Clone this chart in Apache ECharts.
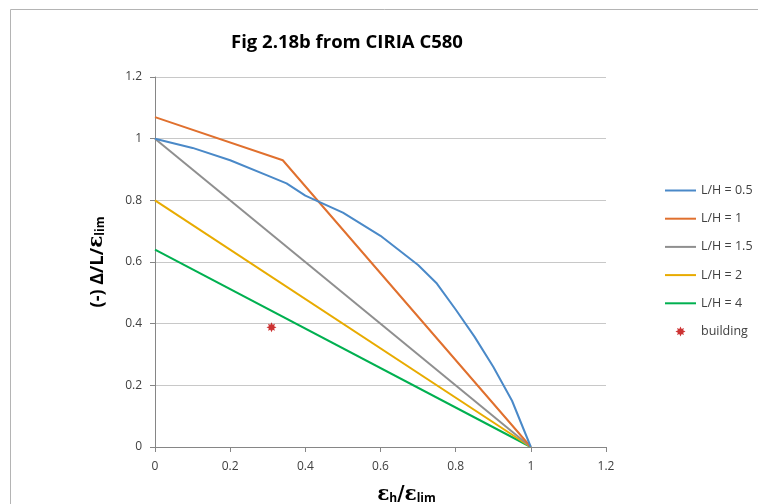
<!DOCTYPE html>
<html>
<head>
<meta charset="utf-8">
<script src="https://cdn.jsdelivr.net/npm/echarts@6/dist/echarts.min.js"></script>
<style>html,body{margin:0;padding:0;background:#fff}#c{width:758px;height:504px}</style>
</head>
<body>
<div id="c"></div>
<script>
// ---- data ----
const xTicks = [0, 0.2, 0.4, 0.6, 0.8, 1, 1.2];
const yTicks = [0, 0.2, 0.4, 0.6, 0.8, 1, 1.2];
const seriesNames = ['L/H = 0.5', 'L/H = 1', 'L/H = 1.5', 'L/H = 2', 'L/H = 4', 'building'];
const lh05X = [0, 0.1, 0.2, 0.3, 0.35, 0.4, 0.5, 0.6, 0.7, 0.75, 0.8, 0.85, 0.9, 0.95, 1];
const lh05Y = [1, 0.97, 0.93, 0.88, 0.855, 0.815, 0.76, 0.685, 0.59, 0.53, 0.446, 0.358, 0.26, 0.15, 0];
const lh1X = [0, 0.34, 1];
const lh1Y = [1.07, 0.93, 0];
const lh15X = [0, 1];
const lh15Y = [1, 0];
const lh2X = [0, 1];
const lh2Y = [0.8, 0];
const lh4X = [0, 1];
const lh4Y = [0.64, 0];
const buildingX = [0.31];
const buildingY = [0.388];

const colors = ['#4a89c8', '#e0702e', '#8f8f8f', '#e8ab00', '#00b050', '#c00000'];
const starPath = 'path://M50,0 L62,25 L85,15 L76,38 L100,50 L76,62 L85,85 L62,75 L50,100 L38,75 L15,85 L24,62 L0,50 L24,38 L15,15 L38,25 Z';

function pairs(xs, ys) { return xs.map((x, i) => [x, ys[i]]); }

const font = 'Open Sans';
const chart = echarts.init(document.getElementById('c'));
const lineData = [[lh05X, lh05Y], [lh1X, lh1Y], [lh15X, lh15Y], [lh2X, lh2Y], [lh4X, lh4Y]];
const series = lineData.map((d, i) => ({
  name: seriesNames[i], type: 'line', data: pairs(d[0], d[1]),
  symbol: 'none', lineStyle: { width: 2, color: colors[i] }, itemStyle: { color: colors[i] },
  z: 10 - i
}));
series.push({
  name: seriesNames[5], type: 'scatter', data: pairs(buildingX, buildingY),
  symbol: starPath, symbolSize: 10, itemStyle: { color: colors[5] }, z: 20
});

chart.setOption({
  animation: false,
  graphic: [{ type: 'rect', shape: { x: 10.5, y: 9.5, width: 800, height: 600 },
    style: { fill: 'none', stroke: '#b4b4b4', lineWidth: 1 }, silent: true }],
  title: { text: 'Fig 2.18b from CIRIA C580', left: 231, top: 33, padding: 0,
    textStyle: { fontFamily: font, fontSize: 18.5, fontWeight: 'bold', color: '#000' } },
  legend: {
    orient: 'vertical', left: 664, top: 184, padding: 0, itemWidth: 31, itemHeight: 10, itemGap: 15.2,
    textStyle: { fontFamily: font, fontSize: 12.5, color: '#404040' },
    data: seriesNames.map((n, i) => i === 5
      ? { name: n, icon: starPath, itemStyle: { color: colors[5] } }
      : { name: n, itemStyle: { opacity: 0 } })
  },
  grid: { left: 155, right: 152, top: 77, bottom: 57, outerBoundsMode: 'none', containLabel: false },
  xAxis: {
    type: 'value', min: xTicks[0], max: xTicks[xTicks.length - 1], interval: 0.2,
    axisLine: { show: true, lineStyle: { color: '#868686', width: 1 } },
    axisTick: { show: true, length: 5, lineStyle: { color: '#868686' } },
    splitLine: { show: false },
    axisLabel: { fontFamily: font, fontSize: 12, color: '#404040', margin: 14,
      formatter: v => String(+v.toFixed(1)) },
    name: '{e|ε}{s|h}{e|/}{e|ε}{s|lim}', nameLocation: 'middle', nameGap: 34,
    nameTextStyle: { padding: [0, 0, 0, 52],
      rich: { e: { fontFamily: 'DejaVu Serif', fontSize: 20, fontWeight: 'bold', color: '#000', verticalAlign: 'bottom', lineHeight: 24 },
              s: { fontFamily: font, fontSize: 12, fontWeight: 'bold', color: '#000', verticalAlign: 'bottom', lineHeight: 18 } } }
  },
  yAxis: {
    type: 'value', min: yTicks[0], max: yTicks[yTicks.length - 1], interval: 0.2,
    axisLine: { show: true, lineStyle: { color: '#868686', width: 1 } },
    axisTick: { show: true, length: 5, lineStyle: { color: '#868686' } },
    splitLine: { show: true, lineStyle: { color: '#c8c8c8', width: 1 } },
    axisLabel: { fontFamily: font, fontSize: 12, color: '#404040', margin: 13,
      formatter: v => String(+v.toFixed(1)) },
    name: '{m|(-) Δ/L/}{e|ε}{s|lim}', nameLocation: 'middle', nameGap: 48, nameRotate: 90,
    nameTextStyle: {
      rich: { m: { fontFamily: font, fontSize: 18, fontWeight: 'bold', color: '#000', verticalAlign: 'bottom', lineHeight: 24 },
              e: { fontFamily: 'DejaVu Serif', fontSize: 20, fontWeight: 'bold', color: '#000', verticalAlign: 'bottom', lineHeight: 24 },
              s: { fontFamily: font, fontSize: 12, fontWeight: 'bold', color: '#000', verticalAlign: 'bottom', lineHeight: 18 } } }
  },
  series: series
});
</script>
</body>
</html>
